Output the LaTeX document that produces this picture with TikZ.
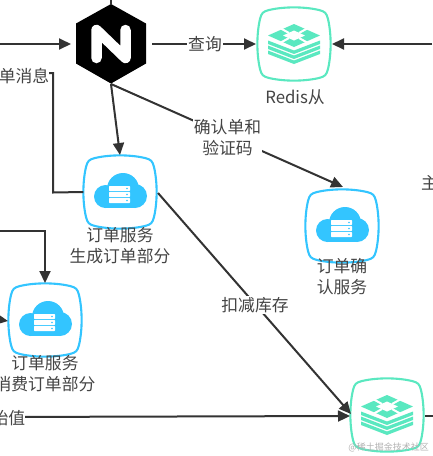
\documentclass[tikz,border=0pt]{standalone}
\usepackage{fontspec}
\setmainfont{Noto Sans CJK SC}
\usetikzlibrary{arrows.meta}
\definecolor{lab}{HTML}{444444}
\definecolor{edge}{HTML}{333333}
\definecolor{rg}{HTML}{5AE8C0}
\definecolor{cb}{HTML}{33C5FF}
\tikzset{
 x=1pt,y=-1pt,
 anchorbox/.style={inner sep=0pt,minimum width=73pt,minimum height=73pt},
 lbl/.style={font=\fontsize{16.8}{21}\selectfont,text=lab,align=center,inner sep=0pt},
 elbl/.style={lbl,fill=white,inner sep=1pt},
 conn/.style={draw=edge,line width=2pt,-{Triangle[length=12pt,width=11pt]}},
 connp/.style={draw=edge,line width=2pt},
 pics/squircle/.style={code={
  \draw[#1,line width=2.1pt,fill=white]
   (-25,-34) .. controls (-10,-37.5) and (10,-37.5) .. (25,-34)
   .. controls (31,-32.5) and (32.5,-31) .. (34,-25)
   .. controls (37.5,-10) and (37.5,10) .. (34,25)
   .. controls (32.5,31) and (31,32.5) .. (25,34)
   .. controls (10,37.5) and (-10,37.5) .. (-25,34)
   .. controls (-31,32.5) and (-32.5,31) .. (-34,25)
   .. controls (-37.5,10) and (-37.5,-10) .. (-34,-25)
   .. controls (-32.5,-31) and (-31,-32.5) .. (-25,-34) -- cycle;
 }},
 pics/cloudicon/.style={code={
  \fill[cb] (3,-3) circle[radius=16];
  \fill[cb] (-14.5,4.5) circle[radius=11.5];
  \fill[cb] (15,4) circle[radius=12];
  \fill[cb] (-14.5,0) rectangle (15,16);
  \foreach \yy in {-6,0,6}{
   \fill[white,rounded corners=.6pt] (-11,\yy) rectangle (10,\yy+5);
   \fill[cb] (7,\yy+2.5) circle[radius=.9];
  }
 }},
 pics/redisicon/.style={code={
  \foreach \yy in {-3.5,1.5,6.5}{
   \fill[rg] (-26,\yy) -- (0,\yy+10) -- (26,\yy) -- (26,\yy+3.5) -- (0,\yy+13.5) -- (-26,\yy+3.5) -- cycle;
  }
  \fill[rg] (-26,-8.5) -- (0,-20) -- (26,-8.5) -- (0,3) -- cycle;
  \fill[white] (-11,-8.5) -- (0,-13.5) -- (11,-8.5) -- (0,-3.5) -- cycle;
  \draw[white,line width=2pt] (-5,-11) -- (-14,-16) (5,-11) -- (14,-16) (-5,-6) -- (-14,-1) (5,-6) -- (14,-1);
 }}
}
\begin{document}
\begin{tikzpicture}
\useasboundingbox (0,0) rectangle (432,456);
% anchors
\node[anchorbox] (rs) at (294,44) {};
\node[anchorbox] (gen) at (120,192) {};
\node[anchorbox] (conf) at (342,226) {};
\node[anchorbox] (cons) at (45,320) {};
\node[anchorbox] (rm) at (387,415) {};
\coordinate (inL) at (0,44);
\coordinate (inR) at (432,44);
\coordinate (inT) at (111,-10);
\coordinate (loopL) at (0,231);
\coordinate (consL) at (-30,315);
\coordinate (outR) at (445,416);
\coordinate (hook) at (49,73);
% hexagon
\node[inner sep=0pt,minimum size=0pt] (ng) at (111,44) {};
\coordinate (ngB) at (111,84);
\fill[black] (111,4) -- (146,23.5) -- (146,63.5) -- (111,83.5) -- (76,63.5) -- (76,23.5) -- cycle;
\draw[white,line width=10.5pt,line cap=round,line join=round] (96.5,58) -- (96.5,30) -- (125.5,58) -- (125.5,30);
% icons
\pic at (rs) {squircle=rg}; \pic at (rs) {redisicon};
\pic at (rm) {squircle=rg}; \pic at (rm) {redisicon};
\pic at (gen) {squircle=cb}; \pic at (gen) {cloudicon};
\pic at (conf) {squircle=cb}; \pic at (conf) {cloudicon};
\pic at (cons) {squircle=cb}; \pic at (cons) {cloudicon};
% connectors
\draw[conn] (inL) -- (71,44);
\draw[connp] (inT) -- (111,4);
\draw[conn] (152,44) -- (256,44);
\draw[conn] (inR) -- (332,44);
\draw[conn] (ngB) -- (120,155);
\draw[conn] (ngB) -- (343,187);
\draw[connp] (gen.west) -- (53,192.5) -- (53,73) -- (hook);
\draw[conn] (loopL) -- (45,231) -- (45,283);
\draw[conn] (consL) -- (8,321);
\draw[conn] (158,193) -- (351,414);
\draw[conn] (0,417) -- (350,416);
\draw[connp] (425,416) -- (outR);
% labels
\node[elbl] (q) at (205,44.5) {查询};
\node[elbl] (c) at (227.5,138) {确认单和\\验证码};
\node[elbl] (k) at (255,305) {扣减库存};
\node[lbl,anchor=east,fill=white] (m) at (49.5,76) {单消息};
\node[lbl,anchor=east,fill=white] (v) at (25.5,418) {始值};
\node[lbl] (rsl) at (295,97) {Redis从};
\node[lbl] (genl) at (120,246) {订单服务\\生成订单部分};
\node[lbl] (confl) at (342,277) {订单确\\认服务};
\node[lbl] (consl) at (45,373.5) {订单服务\\消费订单部分};
\node[lbl,anchor=west] (z) at (421,183) {主};
\node[inner sep=0pt,text=black!30,font=\fontsize{9}{11}\selectfont,anchor=east] (w) at (429,447) {@稀土掘金技术社区};
\end{tikzpicture}
\end{document}
